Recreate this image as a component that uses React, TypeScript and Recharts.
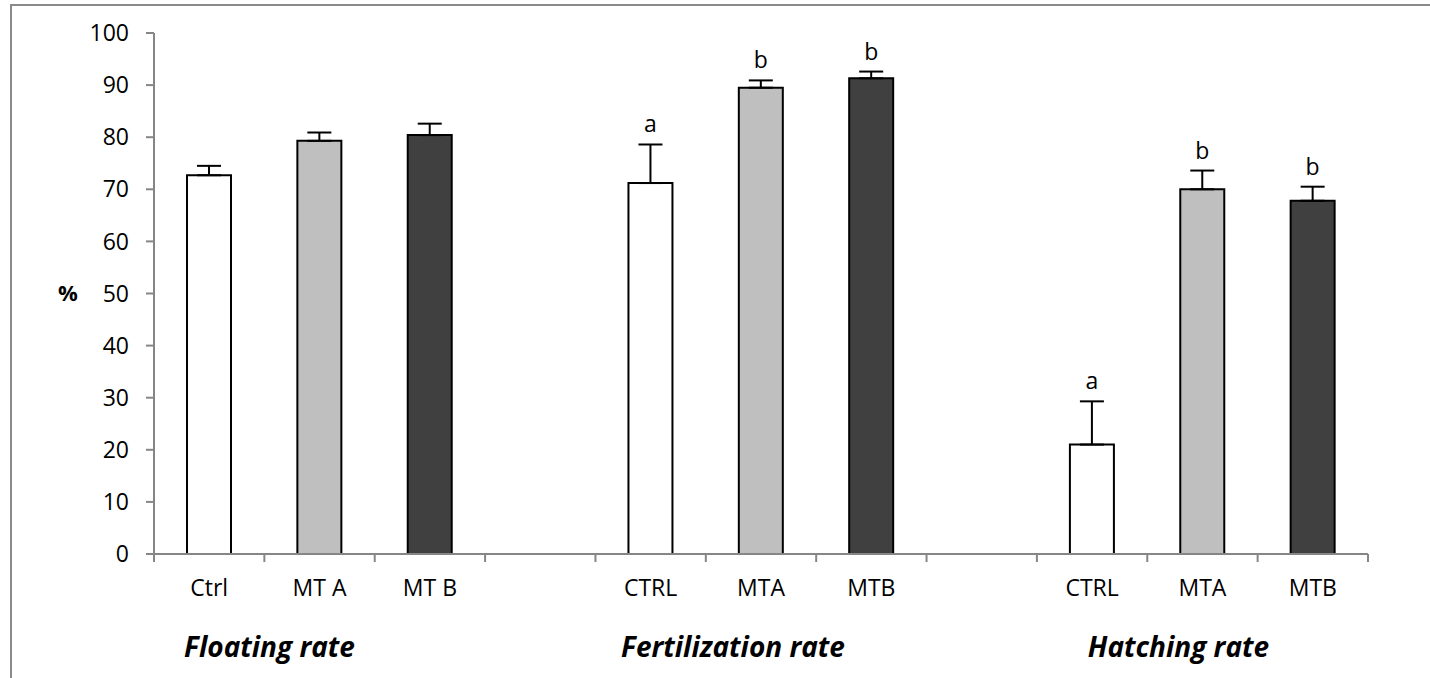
import React from "react";
import { BarChart, Bar, XAxis, YAxis, ErrorBar, LabelList, Cell } from "recharts";

// 11 slots: three groups of three bars with an empty slot between groups
const categories = ["Ctrl", "MT A", "MT B", "", "CTRL", "MTA", "MTB", "", "CTRL", "MTA", "MTB"];
const means = [72.7, 79.3, 80.4, null, 71.2, 89.5, 91.3, null, 21.0, 70.0, 67.8];
const errors = [1.8, 1.6, 2.2, null, 7.4, 1.4, 1.3, null, 8.3, 3.6, 2.7];
const letters = ["", "", "", "", "a", "b", "b", "", "a", "b", "b"];
const groups = ["Floating rate", "Fertilization rate", "Hatching rate"];
const yTicks = [0, 10, 20, 30, 40, 50, 60, 70, 80, 90, 100];

const FILLS = ["#ffffff", "#bfbfbf", "#404040"];
const AXIS = "#868686";
const GROUP_DX = [-50, -28, -24];

const rows = means
  .map((m, i) => ({
    pos: i + 0.5,
    value: m,
    err: errors[i] == null ? null : [0, errors[i]],
    letter: letters[i],
    slot: i % 4,
  }))
  .filter((r) => r.value !== null);

const xTicks = Array.from({ length: 23 }, (_, i) => i / 2);

// eslint-disable-next-line @typescript-eslint/no-explicit-any
const XTick = ({ x, y, payload }: any) => {
  const v = payload.value;
  if (Number.isInteger(v)) {
    return <line x1={x} y1={y} x2={x} y2={y + 8} stroke={AXIS} strokeWidth={2} />;
  }
  const idx = Math.floor(v);
  const g = Math.floor(idx / 4);
  const isMid = idx % 4 === 1;
  return (
    <g>
      <text x={x} y={y + 42} textAnchor="middle" fill="#000" fontSize={23}>
        {categories[idx]}
      </text>
      {isMid && (
        <text
          x={x + GROUP_DX[g]}
          y={y + 103}
          textAnchor="middle"
          fill="#000"
          fontSize={28}
          fontWeight="bold"
          fontStyle="italic"
        >
          {groups[g]}
        </text>
      )}
    </g>
  );
};

// eslint-disable-next-line @typescript-eslint/no-explicit-any
const LetterLabel = ({ x, y, width, height, index }: any) => {
  const r = rows[index];
  if (!r || !r.letter) return null;
  const perUnit = height / (r.value as number);
  const top = y - (r.err ? r.err[1] : 0) * perUnit;
  return (
    <text x={x + width / 2} y={top - 12} textAnchor="middle" fill="#000" fontSize={23}>
      {r.letter}
    </text>
  );
};

export default function App() {
  return (
    <div
      style={{
        position: "absolute",
        left: 0,
        top: 0,
        width: 1430,
        height: 678,
        background: "#fff",
        fontFamily: "'Open Sans', sans-serif",
      }}
    >
      <div
        style={{
          position: "absolute",
          left: 10,
          top: 4,
          width: 1420,
          height: 674,
          borderTop: "2px solid #8a8a8a",
          borderLeft: "2px solid #8a8a8a",
        }}
      />
      <BarChart
        width={1430}
        height={678}
        data={rows}
        margin={{ top: 33, right: 62, bottom: 0, left: 0 }}
        style={{ position: "absolute", left: 0, top: 0 }}
      >
        <XAxis
          type="number"
          dataKey="pos"
          domain={[0, 11]}
          ticks={xTicks}
          interval={0}
          height={124}
          tickSize={0}
          tickMargin={0}
          tickLine={false}
          axisLine={{ stroke: AXIS, strokeWidth: 2 }}
          tick={<XTick />}
        />
        <YAxis
          domain={[0, 100]}
          ticks={yTicks}
          interval={0}
          width={154}
          tickSize={8}
          tickMargin={17}
          tickLine={{ stroke: AXIS, strokeWidth: 2 }}
          axisLine={{ stroke: AXIS, strokeWidth: 2 }}
          tick={{ fill: "#000", fontSize: 23 }}
          label={{
            value: "%",
            position: "insideLeft",
            offset: 58,
            style: { fill: "#000", fontWeight: "bold", fontSize: 22 },
          }}
        />
        <Bar dataKey="value" barSize={44} stroke="#000" strokeWidth={2} isAnimationActive={false}>
          {rows.map((r, i) => (
            <Cell key={i} fill={FILLS[r.slot]} />
          ))}
          <ErrorBar dataKey="err" width={12} stroke="#000" strokeWidth={2} direction="y" />
          <LabelList dataKey="letter" content={<LetterLabel />} />
        </Bar>
      </BarChart>
    </div>
  );
}
